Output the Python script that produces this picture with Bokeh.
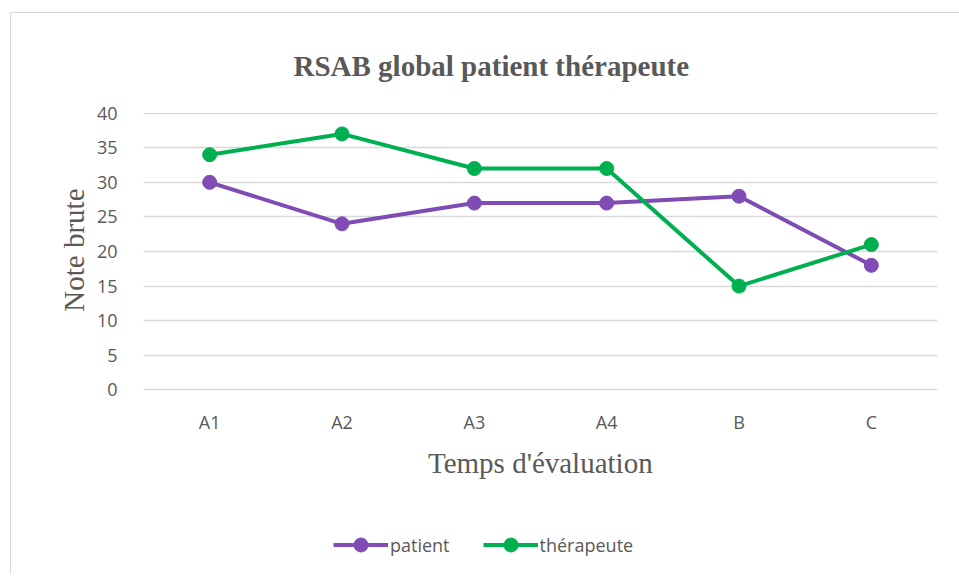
from bokeh.plotting import figure
from bokeh.models import Legend, LegendItem, Range1d, FixedTicker, Title
from bokeh.core.properties import value
from bokeh.embed import file_html
from bokeh.resources import INLINE

categories = ["A1", "A2", "A3", "A4", "B", "C"]
patient = [30, 24, 27, 27, 28, 18]
therapeute = [34, 37, 32, 32, 15, 21]
y_ticks = [0, 5, 10, 15, 20, 25, 30, 35, 40]

PURPLE = "#7f4bb4"
GREEN = "#00b050"
GREY = "#595959"

# layout constants (screen / data placement, not data)
PX_PER_UNIT = 278 / 40.2
FRAME_H = 458
Y_END = 40.1
Y_START = Y_END - FRAME_H / PX_PER_UNIT
TICK_Y = -32 / PX_PER_UNIT      # category labels ~32px below zero line
XLABEL_Y = -73 / PX_PER_UNIT    # x axis title ~73px below zero line

p = figure(x_range=categories, y_range=Range1d(Y_START, Y_END),
           frame_width=794, frame_height=FRAME_H,
           output_backend="svg", toolbar_location=None,
           min_border_left=132, min_border_right=22, min_border_top=99, min_border_bottom=4)
p.styles = {"margin-left": "10px", "margin-top": "12px",
            "border-left": "1px solid #d9d9d9", "border-top": "1px solid #d9d9d9"}
p.outline_line_color = None
p.background_fill_color = "white"
p.border_fill_color = "white"

p.title.text = "RSAB global patient thérapeute"
p.title.align = "left"
p.title.offset = 150
p.title.text_font = "Liberation Serif"
p.title.text_font_size = "29px"
p.title.text_font_style = "bold"
p.title.text_color = GREY
p.title.standoff = 62

l1 = p.line(categories, patient, line_color=PURPLE, line_width=4)
s1 = p.scatter(categories, patient, size=14, fill_color=PURPLE, line_color=PURPLE)
l2 = p.line(categories, therapeute, line_color=GREEN, line_width=4)
s2 = p.scatter(categories, therapeute, size=14, fill_color=GREEN, line_color=GREEN)

p.yaxis.ticker = FixedTicker(ticks=y_ticks)
p.ygrid.ticker = FixedTicker(ticks=y_ticks)
p.ygrid.grid_line_color = "#d9d9d9"
p.ygrid.grid_line_width = 1.5
p.xgrid.grid_line_color = None

ax = p.yaxis[0]
ax.axis_line_color = None
ax.major_tick_line_color = None
ax.minor_tick_line_color = None
ax.major_label_text_font = "Open Sans"
ax.major_label_text_font_size = "18px"
ax.major_label_text_color = GREY
ax.major_label_standoff = 20

p.xaxis.visible = False

# category labels and x axis title
p.text(x=categories, y=[TICK_Y] * len(categories), text=categories,
       text_font=value("Open Sans"), text_font_size=value("18px"), text_color=GREY,
       text_align="center", text_baseline="middle")
p.text(x=["A3"], y=[XLABEL_Y], text=["Temps d'évaluation"], x_offset=66,
       text_font=value("Liberation Serif"), text_font_size=value("29px"), text_color=GREY,
       text_align="center", text_baseline="middle")

ylab = Title(text="Note brute", align="right", offset=76, standoff=6, vertical_align="middle",
             text_font="Liberation Serif", text_font_size="29px", text_font_style="normal",
             text_color=GREY)
p.add_layout(ylab, "left")

legend = Legend(items=[LegendItem(label="patient", renderers=[l1, s1]),
                       LegendItem(label="thérapeute", renderers=[l2, s2])],
                orientation="horizontal", location=(190, 8),
                label_text_font="Open Sans", label_text_font_size="18px",
                label_text_color=GREY, glyph_width=55, glyph_height=35, label_standoff=2,
                spacing=33, border_line_color=None, background_fill_alpha=0,
                margin=0)
p.add_layout(legend, "center")

open("out.html", "w").write(file_html(p, INLINE))
